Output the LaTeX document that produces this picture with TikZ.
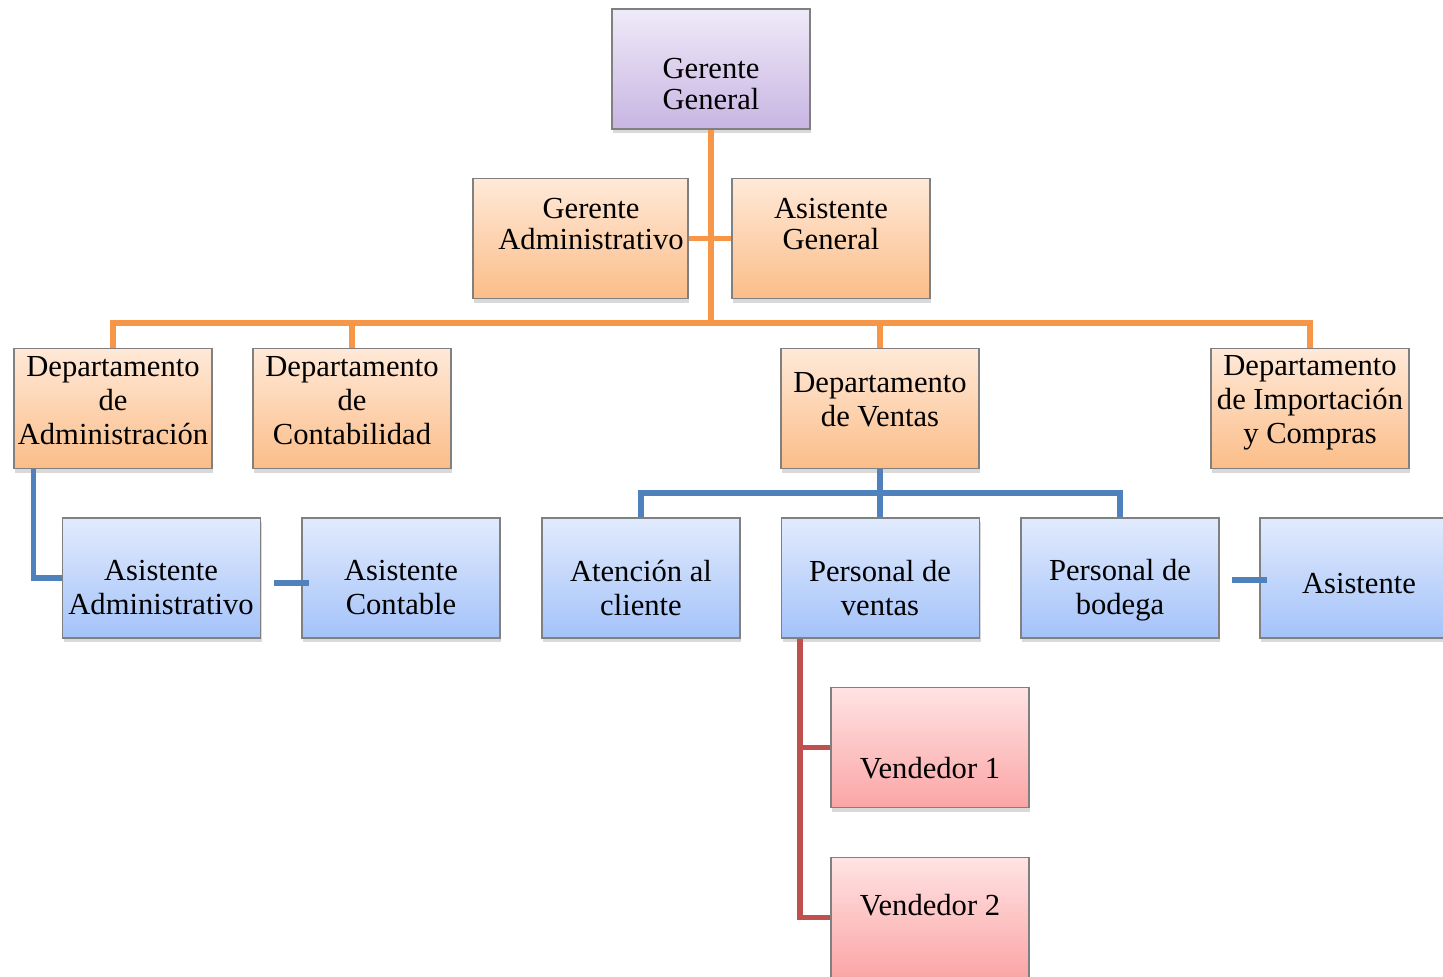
\documentclass[tikz,border=0pt]{standalone}
\usepackage{fontspec}
\setmainfont{Liberation Serif}
\usetikzlibrary{shadows}
\definecolor{borderc}{HTML}{808080}
\definecolor{oTop}{HTML}{FFE9D8}
\definecolor{oBot}{HTML}{FBBD88}
\definecolor{bTop}{HTML}{E1EBFD}
\definecolor{bBot}{HTML}{A4C2F9}
\definecolor{rTop}{HTML}{FFE3E4}
\definecolor{rBot}{HTML}{FBA5A5}
\definecolor{pTop}{HTML}{EFEAF8}
\definecolor{pBot}{HTML}{C8B5E3}
\definecolor{oLine}{HTML}{F79646}
\definecolor{bLine}{HTML}{4F81BD}
\definecolor{rLine}{HTML}{C0504D}
\begin{document}
\begin{tikzpicture}[x=0.5pt,y=-0.5pt,
  box/.style={draw=borderc, line width=0.6pt, minimum width=99pt, minimum height=60pt, inner sep=0pt,
    drop shadow={shadow xshift=0.6pt, shadow yshift=-2.2pt, opacity=0.3}},
  obox/.style={box, top color=oTop, bottom color=oBot},
  bbox/.style={box, top color=bTop, bottom color=bBot},
  rbox/.style={box, top color=rTop, bottom color=rBot},
  pbox/.style={box, top color=pTop, bottom color=pBot},
  lbl/.style={align=center, inner sep=0pt, font=\fontsize{15.3}{17}\selectfont},
  lbltop/.style={align=center, inner sep=0pt, font=\fontsize{15.3}{15.5}\selectfont},
  oline/.style={draw=oLine, line width=2.6pt},
  bline/.style={draw=bLine, line width=2.6pt},
  rline/.style={draw=rLine, line width=2.6pt},
]
\useasboundingbox (0,0) rectangle (1443,977);
\clip (0,0) rectangle (1443,977);

% boxes
\node[pbox] (gg) at (711,69) {};
\node[obox, minimum width=107.5pt] (ga) at (580.5,238.5) {};
\node[obox] (ag) at (831,238.5) {};
\node[obox] (da) at (113,408.5) {};
\node[obox] (dc) at (352,408.5) {};
\node[obox] (dv) at (880,408.5) {};
\node[obox] (di) at (1310,408.5) {};
\node[bbox] (aa) at (161.5,578) {};
\node[bbox] (ac) at (401,578) {};
\node[bbox] (at) at (641,578) {};
\node[bbox] (pv) at (880.5,578) {};
\node[bbox] (pb) at (1120,578) {};
\node[bbox] (as) at (1359,578) {};
\node[rbox] (v1) at (930,747.5) {};
\node[rbox] (v2) at (930,917.5) {};

% labels
\node[lbltop] (ggt) at (711,84) {Gerente\\General};
\node[lbltop] (gat) at (591,224) {Gerente\\Administrativo};
\node[lbltop] (agt) at (831,224) {Asistente\\General};
\node[lbl] (dat) at (113,401) {Departamento\\de\\Administración};
\node[lbl] (dct) at (352,401) {Departamento\\de\\Contabilidad};
\node[lbl] (dvt) at (880,400) {Departamento\\de Ventas};
\node[lbl] (dit) at (1310,403) {Departamento\\de Importación\\y Compras};
\node[lbl] (aat) at (161,588) {Asistente\\Administrativo};
\node[lbl] (act) at (401,588) {Asistente\\Contable};
\node[lbl] (att) at (641,588) {Atención al\\cliente};
\node[lbl] (pvt) at (880,588) {Personal de\\ventas};
\node[lbl] (pbt) at (1120,590) {Personal de\\bodega};
\node[lbl] (ast) at (1359,584) {Asistente};
\node[lbl] (v1t) at (930,768) {Vendedor 1};
\node[lbl] (v2t) at (930,905) {Vendedor 2};

% orange connectors
\coordinate (hub) at (711,323);
\draw[oline] (gg.south) -- (hub);
\draw[oline] (ga.east) -- (ag.west);
\draw[oline] (da.north) |- (hub) -| (di.north);
\draw[oline] (dc.north) -- (dc.north |- hub);
\draw[oline] (dv.north) -- (dv.north |- hub);

% blue connectors
\draw[bline] ([xshift=10pt]da.south west) |- (aa.west);
\coordinate (acx) at (274,583);
\draw[bline] (acx) -- ([xshift=4pt]ac.west |- acx);
\coordinate (vh) at (880,493);
\draw[bline] (at.north) |- (vh) -| (pb.north);
\draw[bline] (dv.south) -- (dv.south |- pv.north);
\coordinate (asx) at (1232,580);
\draw[bline] (asx) -- ([xshift=4pt]as.west |- asx);

% red connectors
\draw[rline] ([xshift=9.5pt]pv.south west) |- (v1.west);
\draw[rline] ([xshift=9.5pt]pv.south west) |- (v2.west);
\end{tikzpicture}
\end{document}
